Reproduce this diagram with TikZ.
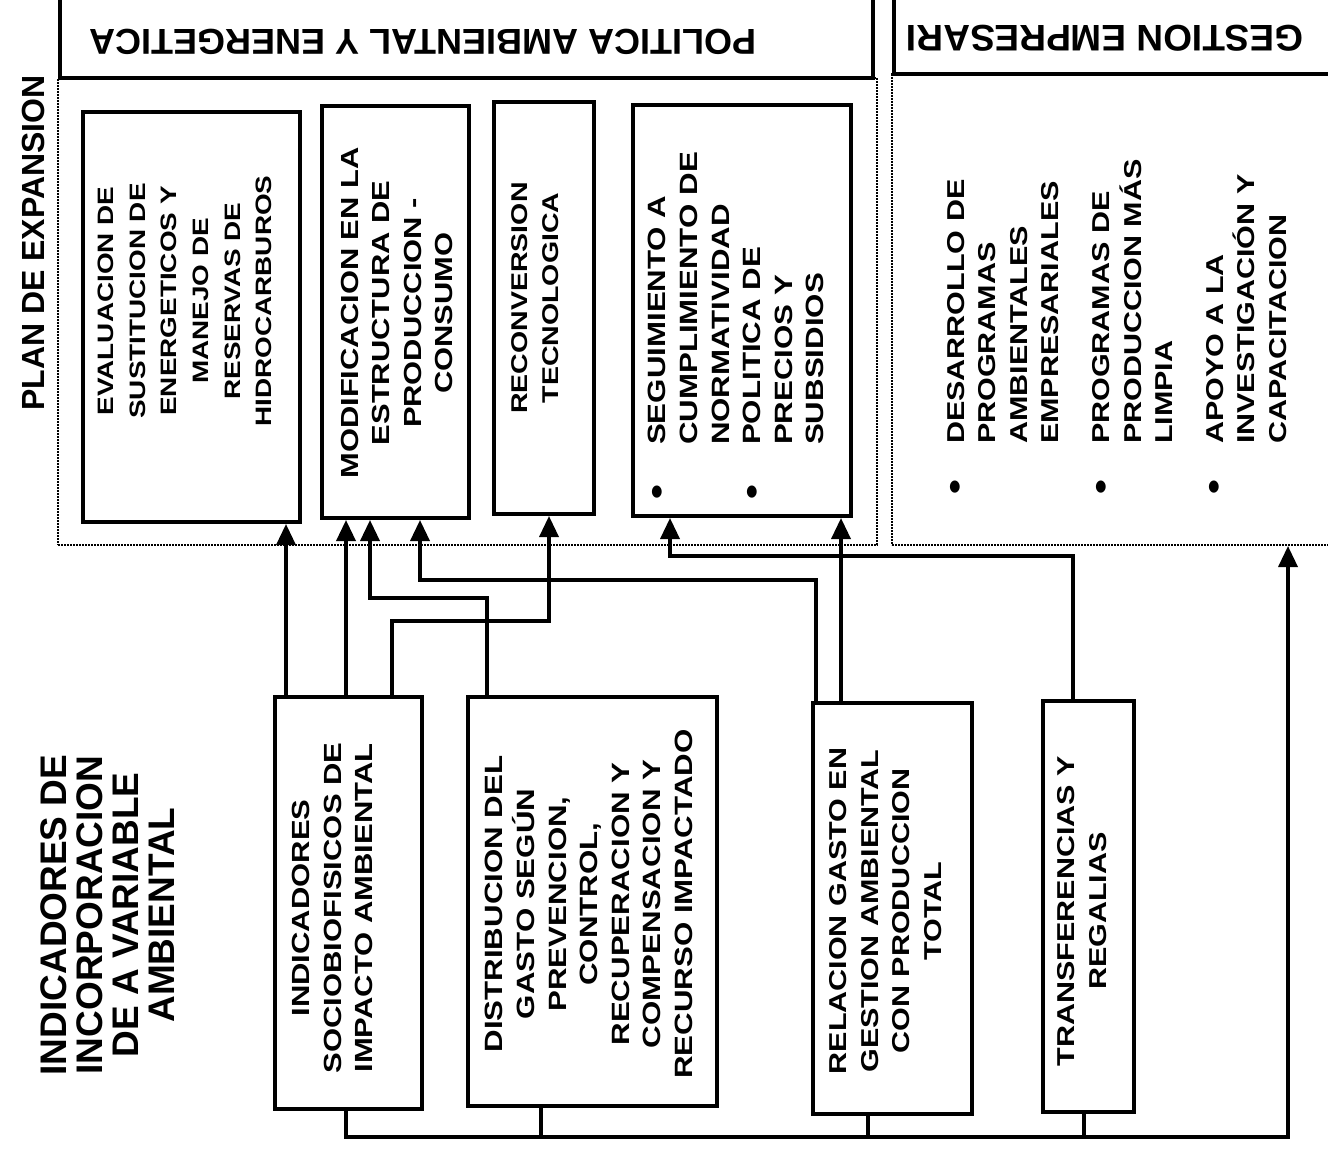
\documentclass[tikz,border=0pt]{standalone}
\usepackage{fontspec}
\setmainfont{Liberation Sans}
\newfontfamily\widesans{Liberation Sans}[FakeStretch=1.25]
\usetikzlibrary{arrows.meta, positioning}

\newcommand{\dotmark}{\raisebox{-2.5pt}{\fontsize{34}{34}\selectfont\textbullet}}

\begin{document}
\begin{tikzpicture}[x=1pt, y=-1pt,
    box/.style={draw, line width=4pt, inner sep=0pt},
    area/.style={draw, line width=2pt, densely dotted, inner sep=0pt},
    headbox/.style={draw, line width=3.5pt, inner sep=0pt},
    vtext/.style={rotate=90, align=center, inner sep=0pt, font=\widesans\bfseries\fontsize{#1}{31.6}\selectfont},
    link/.style={line width=3.5pt},
    arr/.style={link, -{Triangle[width=19pt, length=21pt]}}]
    \useasboundingbox (0,0) rectangle (1328,1150);
    \clip (0,0) rectangle (1328,1150);

    % dotted areas and header bands
    \node[area, minimum width=819, minimum height=467] (planarea) at (467.5,311.5) {};
    \node[area, minimum width=453, minimum height=471] (gestarea) at (1118.5,309.5) {};
    \node[headbox, minimum width=813, minimum height=93] (polhead) at (466.5,31.5) {};
    \node[headbox, minimum width=451, minimum height=89] (gesthead) at (1119.5,29.5) {};
    \node[rotate=180, font=\bfseries\fontsize{36}{40}\selectfont] (poltxt) at (423,42) {POLITICA AMBIENTAL Y ENERGETICA};
    \node[rotate=180, font=\bfseries\fontsize{37}{40}\selectfont] (gestheadtxt) at (1105,38) {GESTION EMPRESARI};
    \node[rotate=90, font=\bfseries\fontsize{32}{36}\selectfont] (plan) at (33,243) {PLAN DE EXPANSION};

    % upper boxes
    \node[box, minimum width=217, minimum height=410] (eval) at (191.5,317) {};
    \node[box, minimum width=147, minimum height=412] (modif) at (395.5,312) {};
    \node[box, minimum width=100, minimum height=412] (recon) at (544,308) {};
    \node[box, minimum width=218, minimum height=411] (segui) at (742,310.5) {};
    \node[vtext=22.3] (evaltxt) at (185,301) {EVALUACION DE\\SUSTITUCION DE\\ENERGETICOS Y\\MANEJO DE\\RESERVAS DE\\HIDROCARBUROS};
    \node[vtext=24.7] (modiftxt) at (397,313) {MODIFICACION EN LA\\ESTRUCTURA DE\\PRODUCCION -\\CONSUMO};
    \node[vtext=22.8] (recontxt) at (535,298) {RECONVERSION\\TECNOLOGICA};
    \node[vtext=25, anchor=west] (seguitxt) at (738.5,500) {\begin{tabular}{@{}l@{\hspace{40pt}}l@{}}
        \dotmark & SEGUIMIENTO A\\ & CUMPLIMIENTO DE\\ & NORMATIVIDAD\\
        \dotmark & POLITICA DE\\ & PRECIOS Y\\ & SUBSIDIOS\end{tabular}};
    \node[vtext=24.4, anchor=west] (gestlist) at (1119,495) {\begin{tabular}{@{}l@{\hspace{36pt}}l@{}}
        \dotmark & DESARROLLO DE\\ & PROGRAMAS\\ & AMBIENTALES\\ & EMPRESARIALES\\[19pt]
        \dotmark & PROGRAMAS DE\\ & PRODUCCION MÁS\\ & LIMPIA\\[19pt]
        \dotmark & APOYO A LA\\ & INVESTIGACIÓN Y\\ & CAPACITACION\end{tabular}};

    % lower boxes
    \node[rotate=90, align=center, font=\bfseries\fontsize{37}{36}\selectfont] (indlabel) at (108,915) {INDICADORES DE\\INCORPORACION\\DE A VARIABLE\\AMBIENTAL};
    \node[box, minimum width=147, minimum height=412] (indic) at (348.5,903) {};
    \node[box, minimum width=249, minimum height=409] (distr) at (592.5,901.5) {};
    \node[box, minimum width=159, minimum height=411] (relac) at (892.5,908.5) {};
    \node[box, minimum width=91, minimum height=411] (transf) at (1088.5,906.5) {};
    \node[vtext=24.8] (indictxt) at (332.5,908) {INDICADORES\\SOCIOBIOFISICOS DE\\IMPACTO AMBIENTAL};
    \node[vtext=25] (distrtxt) at (589,904) {DISTRIBUCION DEL\\GASTO SEGÚN\\PREVENCION,\\CONTROL,\\RECUPERACION Y\\COMPENSACION Y\\RECURSO IMPACTADO};
    \node[vtext=24.4] (relactxt) at (885.5,911) {RELACION GASTO EN\\GESTION AMBIENTAL\\CON PRODUCCION\\TOTAL};
    \node[vtext=24.4] (transftxt) at (1082,911) {TRANSFERENCIAS Y\\REGALIAS};

    % connectors
    \draw[arr] (286,0 |- indic.north) -- (286,0 |- eval.south);
    \draw[arr] (346,0 |- indic.north) -- (346,0 |- modif.south);
    \draw[arr] (392,0 |- indic.north) -- (392,621) -| (549,0 |- recon.south);
    \draw[arr] (487,0 |- distr.north) -- (487,598) -| (370,0 |- modif.south);
    \draw[arr] (816,0 |- relac.north) -- (816,580) -| (420,0 |- modif.south);
    \draw[arr] (841,0 |- relac.north) -- (841,0 |- segui.south);
    \draw[arr] (1073,0 |- transf.north) -- (1073,556) -| (670,0 |- segui.south);
    \draw[arr] (346,0 |- indic.south) -- (346,1137) -| (1288,0 |- gestarea.south);
    \foreach \x/\n in {541/distr, 868/relac, 1084/transf}
        \draw[link] (\x,0 |- \n.south) -- (\x,1137);
\end{tikzpicture}
\end{document}
